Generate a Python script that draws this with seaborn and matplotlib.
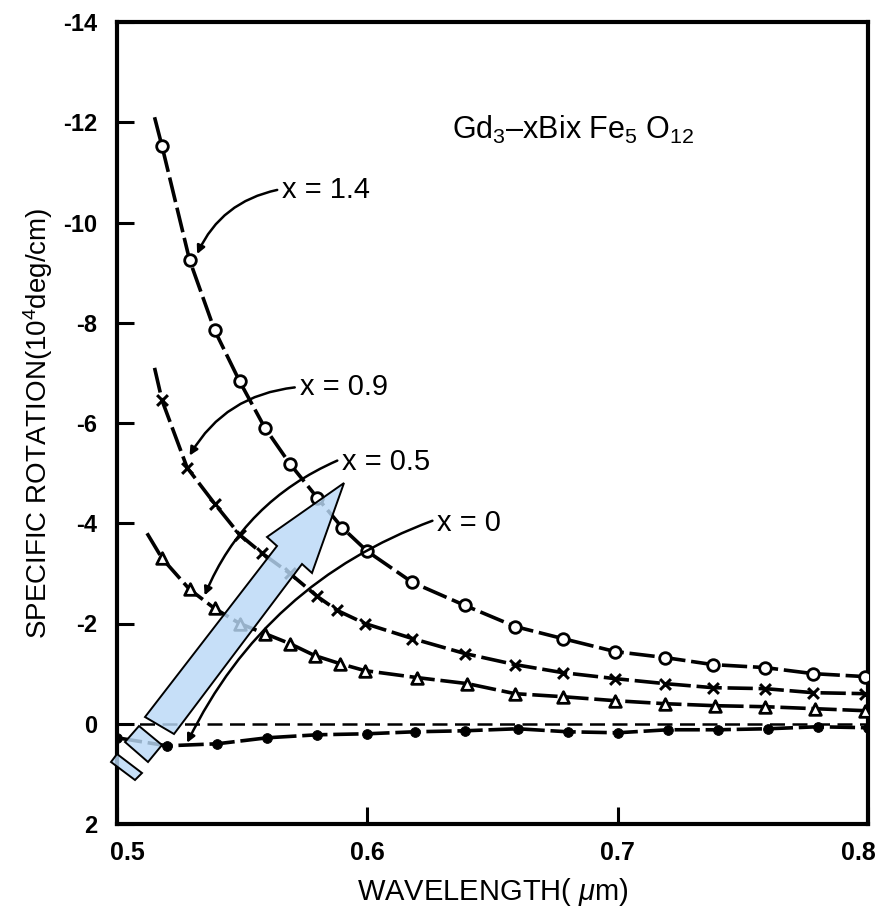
import numpy as np
import pandas as pd
import seaborn as sns
import matplotlib.pyplot as plt
import matplotlib.transforms as mtransforms
from matplotlib.patches import Polygon

# ------------------------------ data ------------------------------

# x = 1.4 (open circles)
wl_14 = [0.518, 0.529, 0.539, 0.549, 0.559, 0.569, 0.580, 0.590, 0.600, 0.618, 0.639,
         0.659, 0.678, 0.699, 0.719, 0.738, 0.759, 0.778, 0.799]
rot_14 = [-11.52, -9.25, -7.85, -6.83, -5.91, -5.19, -4.51, -3.91, -3.44, -2.82, -2.36,
          -1.94, -1.70, -1.44, -1.32, -1.18, -1.12, -1.00, -0.94]

# x = 0.9 (crosses)
wl_09 = [0.518, 0.528, 0.539, 0.549, 0.558, 0.569, 0.580, 0.588, 0.599, 0.618, 0.639,
         0.659, 0.678, 0.699, 0.719, 0.738, 0.759, 0.778, 0.799]
rot_09 = [-6.45, -5.11, -4.39, -3.77, -3.40, -3.00, -2.54, -2.26, -2.00, -1.70, -1.40,
          -1.18, -1.02, -0.90, -0.80, -0.72, -0.70, -0.62, -0.60]

# x = 0.5 (triangles)
wl_05 = [0.518, 0.529, 0.539, 0.549, 0.559, 0.569, 0.579, 0.589, 0.599, 0.620, 0.640,
         0.659, 0.678, 0.699, 0.719, 0.739, 0.759, 0.779, 0.799]
rot_05 = [-3.30, -2.68, -2.30, -2.00, -1.80, -1.60, -1.36, -1.20, -1.06, -0.92, -0.80,
          -0.60, -0.54, -0.46, -0.40, -0.36, -0.34, -0.30, -0.26]

# x = 0 (filled dots)
wl_00 = [0.500, 0.520, 0.540, 0.560, 0.580, 0.600, 0.619, 0.639, 0.660, 0.680, 0.700,
         0.720, 0.740, 0.760, 0.780, 0.800]
rot_00 = [0.28, 0.44, 0.40, 0.28, 0.22, 0.20, 0.16, 0.14, 0.10, 0.16, 0.18,
          0.12, 0.12, 0.10, 0.06, 0.08]

# where each drawn curve begins (line only, no marker)
start_wl = [0.515, 0.515, 0.512, 0.500]
start_rot = [-12.1, -7.1, -3.8, 0.28]

series_names = ["x = 1.4", "x = 0.9", "x = 0.5", "x = 0"]
series_wl = [wl_14, wl_09, wl_05, wl_00]
series_rot = [rot_14, rot_09, rot_05, rot_00]

yticks = [-14, -12, -10, -8, -6, -4, -2, 0, 2]
xticks = [0.5, 0.6, 0.7, 0.8]

# --------------------------------------- styling ---------------------------------------

sns.set_style("ticks")
plt.rcParams["font.family"] = ["Liberation Sans", "DejaVu Sans"]
plt.rcParams["mathtext.fontset"] = "custom"
plt.rcParams["mathtext.rm"] = "Liberation Sans"
plt.rcParams["mathtext.it"] = "Liberation Sans:italic"
plt.rcParams["axes.unicode_minus"] = False
for key in ["text.color", "axes.labelcolor", "xtick.color", "ytick.color", "axes.edgecolor"]:
    plt.rcParams[key] = "black"

fig = plt.figure(figsize=(8.83, 9.14), dpi=100)
ax = fig.add_axes([117 / 883, 1 - 824 / 914, (868 - 117) / 883, (824 - 22) / 914])

# ------------------------------------- curves ------------------------------------------

marker_kw = [
    dict(marker="o", s=70, facecolor="white", edgecolor="black", linewidth=2.0),
    dict(marker="x", s=60, color="black", linewidth=2.2),
    dict(marker="^", s=70, facecolor="white", edgecolor="black", linewidth=2.0),
    dict(marker="o", s=50, color="black", edgecolor="black"),
]

for i in range(4):
    line_x = [start_wl[i]] + series_wl[i]
    line_y = [start_rot[i]] + series_rot[i]
    sns.lineplot(x=line_x, y=line_y, ax=ax, color="black", lw=2.6, sort=False,
                 estimator=None, linestyle=(0, (7, 1.6)))
    sns.scatterplot(x=series_wl[i], y=series_rot[i], ax=ax, zorder=3, **marker_kw[i])

# zero reference line
ax.axhline(0, color="black", lw=1.8, linestyle=(0, (6, 3)), zorder=1)

# --------------------------------------- labels ----------------------------------------

ax.text(0.566, -10.65, "x = 1.4", fontsize=21, va="center", ha="left")
ax.text(0.573, -6.71, "x = 0.9", fontsize=21, va="center", ha="left")
ax.text(0.590, -5.23, "x = 0.5", fontsize=21, va="center", ha="left")
ax.text(0.628, -4.00, "x = 0", fontsize=21, va="center", ha="left")

leader = dict(arrowstyle="-|>", color="black", lw=1.8, mutation_scale=12, shrinkA=0, shrinkB=0)
ax.annotate("", xy=(0.532, -9.37), xytext=(0.564, -10.65),
            arrowprops=dict(connectionstyle="arc3,rad=0.25", **leader))
ax.annotate("", xy=(0.529, -5.35), xytext=(0.571, -6.71),
            arrowprops=dict(connectionstyle="arc3,rad=0.25", **leader))
ax.annotate("", xy=(0.535, -2.56), xytext=(0.588, -5.25),
            arrowprops=dict(connectionstyle="arc3,rad=0.2", **leader))
ax.annotate("", xy=(0.528, 0.38), xytext=(0.626, -4.05),
            arrowprops=dict(connectionstyle="arc3,rad=0.2", **leader))

ax.text(0.634, -11.84, "Gd$_3$–xBix Fe$_5$ O$_{12}$", fontsize=22, va="center", ha="left")

ax.set_xlim(0.5, 0.8)
ax.set_ylim(2, -14)
ax.set_xticks(xticks)
ax.set_xticklabels([str(t) for t in xticks])
ax.set_yticks(yticks)
ax.set_yticklabels([str(t) for t in yticks])
ax.tick_params(axis="y", direction="in", length=12, width=2.2, labelsize=17, pad=14)
ax.tick_params(axis="x", direction="in", length=12, width=2.2, labelsize=18, pad=12)
for lab in ax.get_yticklabels() + ax.get_xticklabels():
    lab.set_fontweight("bold")

# first and last wavelength labels sit a little inside the frame in the scan
xlabs = ax.get_xticklabels()
xlabs[0].set_transform(xlabs[0].get_transform() +
                       mtransforms.ScaledTranslation(0.1, 0, fig.dpi_scale_trans))
xlabs[-1].set_transform(xlabs[-1].get_transform() +
                        mtransforms.ScaledTranslation(-0.1, 0, fig.dpi_scale_trans))

ax.set_xlabel("WAVELENGTH( $\\mu$m)", fontsize=21, labelpad=8)
ax.set_ylabel("SPECIFIC ROTATION(10$^4$deg/cm)", fontsize=20, labelpad=6)

for sp in ax.spines.values():
    sp.set_linewidth(3)
    sp.set_visible(True)

# --------------------------- light blue overlay arrow ---------------------------------


def px(points):
    return [(x / 883, 1 - y / 914) for x, y in points]


blue = (0.73, 0.85, 0.97, 0.82)
arrow_main = [(344, 483), (312, 573), (302, 564), (174, 734), (145, 717), (277, 546), (267, 537)]
arrow_piece1 = [(125, 742), (139, 726), (162, 745), (148, 762)]
arrow_piece2 = [(111, 762), (117, 754), (142, 773), (135, 780)]
for pts in [arrow_main, arrow_piece1, arrow_piece2]:
    fig.patches.append(Polygon(px(pts), closed=True, transform=fig.transFigure,
                               facecolor=blue, edgecolor="black", lw=1.4, zorder=5))

fig.savefig("out.png", dpi=100)
